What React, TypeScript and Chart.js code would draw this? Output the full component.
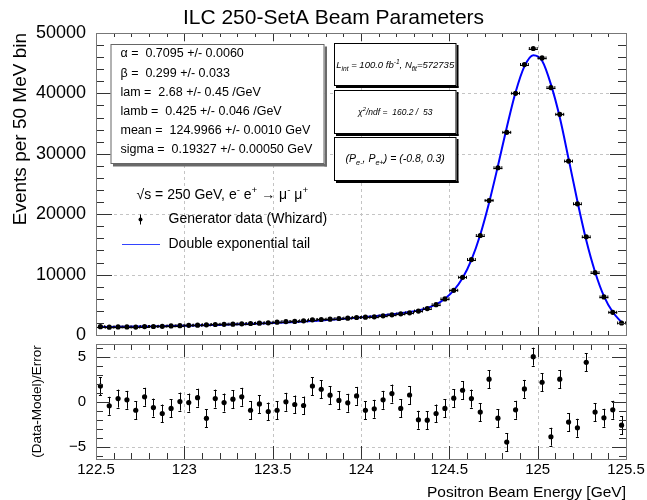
import React, { useEffect, useRef } from 'react';
import { Chart, registerables } from 'chart.js';

Chart.register(...registerables);

const FONT = '"Liberation Sans", Arial, Helvetica, sans-serif';

// ---------- data ----------
const binCenters = [
  122.525, 122.575, 122.625, 122.675, 122.725, 122.775, 122.825, 122.875, 122.925, 122.975,
  123.025, 123.075, 123.125, 123.175, 123.225, 123.275, 123.325, 123.375, 123.425, 123.475,
  123.525, 123.575, 123.625, 123.675, 123.725, 123.775, 123.825, 123.875, 123.925, 123.975,
  124.025, 124.075, 124.125, 124.175, 124.225, 124.275, 124.325, 124.375, 124.425, 124.475,
  124.525, 124.575, 124.625, 124.675, 124.725, 124.775, 124.825, 124.875, 124.925, 124.975,
  125.025, 125.075, 125.125, 125.175, 125.225, 125.275, 125.325, 125.375, 125.425, 125.475,
];

const binHalfWidth = 0.025;

const events = [
  1380, 1290, 1330, 1340, 1320, 1400, 1410, 1440, 1500, 1550,
  1600, 1620, 1680, 1740, 1770, 1800, 1850, 1900, 1960, 2020,
  2120, 2230, 2240, 2350, 2510, 2570, 2620, 2730, 2790, 2900,
  2950, 3010, 3170, 3340, 3500, 3670, 3960, 4380, 5020, 5970,
  7400, 9550, 12490, 16470, 22270, 27690, 33550, 40020, 44780, 47430,
  45870, 40960, 36530, 28790, 21720, 16250, 10330, 6300, 3750, 1990,
];

const fitValues = [
  1320, 1335, 1350, 1370, 1390, 1410, 1435, 1460, 1490, 1520,
  1550, 1585, 1620, 1660, 1700, 1745, 1790, 1840, 1895, 1955,
  2020, 2090, 2165, 2245, 2330, 2420, 2520, 2625, 2735, 2855,
  2980, 3115, 3260, 3420, 3600, 3810, 4080, 4470, 5060, 6000,
  7380, 9420, 12440, 16600, 21900, 27980, 34350, 40190, 44470, 46330,
  45400, 41500, 36040, 29170, 22140, 15680, 10440, 6440, 3800, 2100,
];

const pulls = [
  1.8, -0.4, 0.4, 0.26, -0.9, 0.6, -0.6, -1.26, -0.7, 0.07,
  -0.04, 0.5, -1.8, 0.4, -0.04, 0.33, 0.6, -0.9, -0.2, -1.04,
  -0.9, 0.04, -0.26, -0.37, 1.8, 1.44, 0.78, 0.19, -0.07, 0.7,
  -0.9, -0.74, 0.26, 0.96, -0.7, 0.8, -1.96, -2.0, -1.26, -0.7,
  0.44, 1.33, 0.4, -1.1, 2.56, -1.78, -4.44, -0.85, 1.48, 5.07,
  2.22, -3.85, 2.56, -2.22, -2.85, 4.44, -1.1, -1.74, -0.85, -2.56,
];

const xTickValues = [122.5, 123, 123.5, 124, 124.5, 125, 125.5];
const xTickLabels = ['122.5', '123', '123.5', '124', '124.5', '125', '125.5'];
const xGridValues = [123, 123.5, 124, 124.5, 125];
const yTopTicks = [0, 10000, 20000, 30000, 40000, 50000];
const yTopGrid = [10000, 20000, 30000, 40000];
const yBottomTicks = [-5, 0, 5];
const yBottomTickLabels = ['\u22125', '0', '5'];
const yBottomGrid = [-5, 5];

const fitParamLines = [
  '\u03b1 =  0.7095 +/- 0.0060',
  '\u03b2 =  0.299 +/- 0.033',
  'lam =  2.68 +/- 0.45 /GeV',
  'lamb =  0.425 +/- 0.046 /GeV',
  'mean =  124.9966 +/- 0.0010 GeV',
  'sigma =  0.19327 +/- 0.00050 GeV',
];

const titleText = 'ILC 250-SetA Beam Parameters';
const dataLabel = 'Generator data (Whizard)';
const fitLabel = 'Double exponential tail';

// ---------- helpers ----------
type Seg = { t: string; s?: 'sub' | 'sup' };

function drawRich(ctx: CanvasRenderingContext2D, segs: Seg[], x: number, y: number, size: number, italic: boolean, align: 'left' | 'center') {
  const f = (sz: number) => `${italic ? 'italic ' : ''}${sz}px ${FONT}`;
  let w = 0;
  segs.forEach((sg) => {
    ctx.font = f(sg.s ? size * 0.7 : size);
    w += ctx.measureText(sg.t).width;
  });
  let cx = align === 'center' ? x - w / 2 : x;
  ctx.textAlign = 'left';
  ctx.textBaseline = 'alphabetic';
  ctx.fillStyle = '#000';
  const base = y + size * 0.36;
  segs.forEach((sg) => {
    const sz = sg.s ? size * 0.7 : size;
    ctx.font = f(sz);
    const dy = sg.s === 'sub' ? size * 0.3 : sg.s === 'sup' ? -size * 0.42 : 0;
    ctx.fillText(sg.t, cx, base + dy);
    cx += ctx.measureText(sg.t).width;
  });
}

function drawBox(ctx: CanvasRenderingContext2D, x: number, y: number, w: number, h: number, border: string, shadow: string, sw: number) {
  ctx.fillStyle = shadow;
  ctx.fillRect(x + sw, y + h, w, sw);
  ctx.fillRect(x + w, y + sw, sw, h);
  ctx.fillStyle = '#fff';
  ctx.fillRect(x, y, w, h);
  ctx.strokeStyle = border;
  ctx.lineWidth = 1;
  ctx.strokeRect(x + 0.5, y + 0.5, w - 1, h - 1);
}

type FrameCfg = {
  xMin: number; xStep: number; xCount: number; xMajorEvery: number;
  yMin: number; yStep: number; yCount: number; yMajorEvery: number; yMajorOffset: number;
  xMajorLen: number; xMinorLen: number; yMajorLen: number; yMinorLen: number;
  xGrid: number[]; yGrid: number[];
};

function makeFramePlugin(cfg: FrameCfg) {
  return {
    id: 'rootFrame',
    beforeDatasetsDraw(chart: any) {
      const { ctx, chartArea: a, scales } = chart;
      ctx.save();
      ctx.strokeStyle = '#c4c4c4';
      ctx.lineWidth = 1;
      ctx.setLineDash([3, 3]);
      cfg.xGrid.forEach((v) => {
        const px = Math.round(scales.x.getPixelForValue(v)) + 0.5;
        ctx.beginPath(); ctx.moveTo(px, a.top); ctx.lineTo(px, a.bottom); ctx.stroke();
      });
      cfg.yGrid.forEach((v) => {
        const py = Math.round(scales.y.getPixelForValue(v)) + 0.5;
        ctx.beginPath(); ctx.moveTo(a.left, py); ctx.lineTo(a.right, py); ctx.stroke();
      });
      ctx.restore();
    },
    afterDraw(chart: any) {
      const { ctx, chartArea: a, scales } = chart;
      ctx.save();
      ctx.strokeStyle = '#333';
      ctx.lineWidth = 1;
      ctx.beginPath();
      for (let i = 0; i <= cfg.xCount; i++) {
        const v = cfg.xMin + i * cfg.xStep;
        const px = Math.round(scales.x.getPixelForValue(v)) + 0.5;
        const len = i % cfg.xMajorEvery === 0 ? cfg.xMajorLen : cfg.xMinorLen;
        ctx.moveTo(px, a.bottom); ctx.lineTo(px, a.bottom - len);
        ctx.moveTo(px, a.top); ctx.lineTo(px, a.top + len);
      }
      for (let i = 0; i <= cfg.yCount; i++) {
        const v = cfg.yMin + i * cfg.yStep;
        const py = Math.round(scales.y.getPixelForValue(v)) + 0.5;
        const len = (i - cfg.yMajorOffset) % cfg.yMajorEvery === 0 ? cfg.yMajorLen : cfg.yMinorLen;
        ctx.moveTo(a.left, py); ctx.lineTo(a.left + len, py);
        ctx.moveTo(a.right, py); ctx.lineTo(a.right - len, py);
      }
      ctx.stroke();
      ctx.strokeStyle = '#777';
      ctx.strokeRect(Math.round(a.left) + 0.5, Math.round(a.top) + 0.5, Math.round(a.right - a.left), Math.round(a.bottom - a.top));
      ctx.restore();
    },
  };
}

const errorBarPlugin = {
  id: 'errorBars',
  beforeDatasetDraw(chart: any, args: any) {
    const ds = chart.data.datasets[args.index];
    const eb = ds.errorBars;
    if (!eb) return;
    const { ctx } = chart;
    const xs = chart.scales.x;
    const ys = chart.scales.y;
    ctx.save();
    ctx.strokeStyle = '#000';
    ctx.lineWidth = 1;
    ctx.beginPath();
    ds.data.forEach((p: any, i: number) => {
      const px = xs.getPixelForValue(p.x);
      const py = ys.getPixelForValue(p.y);
      if (eb.xErr) {
        const x0 = xs.getPixelForValue(p.x - eb.xErr[i]);
        const x1 = xs.getPixelForValue(p.x + eb.xErr[i]);
        const yy = Math.round(py) + 0.5;
        ctx.moveTo(x0, yy); ctx.lineTo(x1, yy);
        if (eb.xSerif) {
          ctx.moveTo(x0 + 0.5, py - eb.xSerif); ctx.lineTo(x0 + 0.5, py + eb.xSerif);
          ctx.moveTo(x1 - 0.5, py - eb.xSerif); ctx.lineTo(x1 - 0.5, py + eb.xSerif);
        }
      }
      if (eb.yErr) {
        const y0 = ys.getPixelForValue(p.y - eb.yErr[i]);
        const y1 = ys.getPixelForValue(p.y + eb.yErr[i]);
        const xx = Math.round(px) + 0.5;
        ctx.moveTo(xx, y0); ctx.lineTo(xx, y1);
        if (eb.yCap) {
          ctx.moveTo(px - eb.yCap, Math.round(y0) + 0.5); ctx.lineTo(px + eb.yCap, Math.round(y0) + 0.5);
          ctx.moveTo(px - eb.yCap, Math.round(y1) + 0.5); ctx.lineTo(px + eb.yCap, Math.round(y1) + 0.5);
        }
      }
    });
    ctx.stroke();
    ctx.restore();
  },
};

const annotationPlugin = {
  id: 'annotations',
  afterDraw(chart: any) {
    const ctx: CanvasRenderingContext2D = chart.ctx;
    ctx.save();
    // title
    ctx.fillStyle = '#000';
    ctx.font = `21px ${FONT}`;
    ctx.textAlign = 'center';
    ctx.textBaseline = 'middle';
    ctx.fillText(titleText, 333.5, 18);

    // fit parameter box
    drawBox(ctx, 110.5, 44, 214, 120, '#666', '#6a6a6a', 2.5);
    ctx.fillStyle = '#000';
    ctx.font = `12.5px ${FONT}`;
    ctx.textAlign = 'left';
    ctx.textBaseline = 'middle';
    fitParamLines.forEach((s, i) => ctx.fillText(s, 120.5, 54 + i * 19.2));

    // right info boxes
    drawBox(ctx, 334, 43, 122.5, 43, '#000', '#000', 2);
    drawRich(ctx, [
      { t: 'L' }, { t: 'int', s: 'sub' }, { t: ' = 100.0 fb' }, { t: '-1', s: 'sup' },
      { t: ', N' }, { t: 'fit', s: 'sub' }, { t: '=572735' },
    ], 395.2, 64.5, 9.5, true, 'center');

    drawBox(ctx, 334, 90, 122.5, 44, '#000', '#000', 2);
    drawRich(ctx, [
      { t: '\u03c7' }, { t: '2', s: 'sup' }, { t: '/ndf =  160.2 /  53' },
    ], 395.2, 111.5, 8.5, true, 'center');

    drawBox(ctx, 334, 137, 122.5, 44, '#000', '#000', 2);
    drawRich(ctx, [
      { t: '(P' }, { t: 'e-', s: 'sub' }, { t: ', P' }, { t: 'e+', s: 'sub' }, { t: ') = (-0.8, 0.3)' },
    ], 395.2, 158.5, 10.5, true, 'center');

    // legend
    drawRich(ctx, [
      { t: '\u221as = 250 GeV, e' }, { t: '-', s: 'sup' }, { t: ' e' }, { t: '+', s: 'sup' },
      { t: ' \u2192 \u03bc' }, { t: '-', s: 'sup' }, { t: ' \u03bc' }, { t: '+', s: 'sup' },
    ], 136.5, 193.5, 14, false, 'left');

    ctx.strokeStyle = '#000';
    ctx.lineWidth = 1;
    ctx.beginPath();
    ctx.moveTo(140.5, 214.5); ctx.lineTo(140.5, 224.5);
    ctx.stroke();
    ctx.fillStyle = '#000';
    ctx.beginPath(); ctx.arc(140.5, 219.5, 2, 0, Math.PI * 2); ctx.fill();
    ctx.font = `14px ${FONT}`;
    ctx.textAlign = 'left';
    ctx.textBaseline = 'middle';
    ctx.fillText(dataLabel, 168.5, 219.5);

    ctx.strokeStyle = '#3344ff';
    ctx.lineWidth = 1.2;
    ctx.beginPath(); ctx.moveTo(122, 244.5); ctx.lineTo(160, 244.5); ctx.stroke();
    ctx.fillStyle = '#000';
    ctx.fillText(fitLabel, 168.5, 244.5);
    ctx.restore();
  },
};

const topFrame = makeFramePlugin({
  xMin: 122.5, xStep: 0.1, xCount: 30, xMajorEvery: 5,
  yMin: 0, yStep: 2000, yCount: 25, yMajorEvery: 5, yMajorOffset: 0,
  xMajorLen: 8, xMinorLen: 4, yMajorLen: 16, yMinorLen: 8,
  xGrid: xGridValues, yGrid: yTopGrid,
});

const bottomFrame = makeFramePlugin({
  xMin: 122.5, xStep: 0.1, xCount: 30, xMajorEvery: 5,
  yMin: -6, yStep: 1, yCount: 12, yMajorEvery: 5, yMajorOffset: 1,
  xMajorLen: 13, xMinorLen: 6, yMajorLen: 14, yMinorLen: 7,
  xGrid: xGridValues, yGrid: yBottomGrid,
});

export default function App() {
  const topRef = useRef<HTMLCanvasElement>(null);
  const bottomRef = useRef<HTMLCanvasElement>(null);

  useEffect(() => {
    const topChart = new Chart(topRef.current as HTMLCanvasElement, {
      type: 'scatter',
      data: {
        datasets: [
          {
            type: 'line',
            label: fitLabel,
            data: binCenters.map((x, i) => ({ x, y: fitValues[i] })),
            borderColor: '#0000ff',
            borderWidth: 2,
            pointRadius: 0,
            cubicInterpolationMode: 'monotone',
            fill: false,
            order: 1,
          } as any,
          {
            type: 'scatter',
            label: dataLabel,
            data: binCenters.map((x, i) => ({ x, y: events[i] })),
            pointRadius: 2.6,
            backgroundColor: '#000',
            borderWidth: 0,
            order: 0,
            errorBars: {
              xErr: binCenters.map(() => binHalfWidth),
              yErr: events.map((v) => Math.sqrt(v)),
              xSerif: 1.5,
              yCap: 0,
            },
          } as any,
        ],
      },
      options: {
        responsive: false,
        devicePixelRatio: 1,
        animation: false,
        layout: { padding: { top: 33, right: 21, bottom: 5, left: 0 } },
        plugins: { legend: { display: false }, tooltip: { enabled: false }, title: { display: false } },
        scales: {
          x: { type: 'linear', min: 122.5, max: 125.5, display: false },
          y: {
            type: 'linear',
            min: 0,
            max: 50000,
            afterBuildTicks: (s: any) => { s.ticks = yTopTicks.map((v) => ({ value: v })); },
            afterFit: (s: any) => { s.width = 96; s.paddingTop = 0; s.paddingBottom = 0; },
            grid: { display: false, drawTicks: false },
            border: { display: false },
            ticks: { font: { family: FONT, size: 18 }, color: '#000', padding: 10, callback: (v: any) => String(v) },
            title: {
              display: true,
              text: 'Events per 50 MeV bin',
              align: 'end',
              color: '#000',
              font: { family: FONT, size: 19 },
              padding: { top: 9, bottom: 0 },
            },
          } as any,
        },
      },
      plugins: [topFrame, errorBarPlugin, annotationPlugin],
    });

    const bottomChart = new Chart(bottomRef.current as HTMLCanvasElement, {
      type: 'scatter',
      data: {
        datasets: [
          {
            label: '(Data-Model)/Error',
            data: binCenters.map((x, i) => ({ x, y: pulls[i] })),
            pointRadius: 2.6,
            backgroundColor: '#000',
            borderWidth: 0,
            errorBars: { xErr: null, yErr: pulls.map(() => 1), yCap: 1.5 },
          } as any,
        ],
      },
      options: {
        responsive: false,
        devicePixelRatio: 1,
        animation: false,
        layout: { padding: { top: 4, right: 21, bottom: 0, left: 0 } },
        plugins: { legend: { display: false }, tooltip: { enabled: false } },
        scales: {
          x: {
            type: 'linear',
            min: 122.5,
            max: 125.5,
            afterBuildTicks: (s: any) => { s.ticks = xTickValues.map((v) => ({ value: v })); },
            afterFit: (s: any) => { s.height = 41; s.paddingLeft = 0; s.paddingRight = 0; },
            grid: { display: false, drawTicks: false },
            border: { display: false },
            ticks: {
              font: { family: FONT, size: 15 },
              color: '#000',
              padding: 2,
              maxRotation: 0,
              autoSkip: false,
              callback: (_v: any, i: number) => xTickLabels[i],
            },
            title: {
              display: true,
              text: 'Positron Beam Energy [GeV]',
              align: 'end',
              color: '#000',
              font: { family: FONT, size: 15.5, lineHeight: 0.9 },
              padding: { top: 0, bottom: 0 },
            },
          } as any,
          y: {
            type: 'linear',
            min: -6.33,
            max: 6.48,
            afterBuildTicks: (s: any) => { s.ticks = yBottomTicks.map((v) => ({ value: v })); },
            afterFit: (s: any) => { s.width = 96; s.paddingTop = 0; s.paddingBottom = 0; },
            grid: { display: false, drawTicks: false },
            border: { display: false },
            ticks: {
              font: { family: FONT, size: 15 },
              color: '#000',
              padding: 10,
              callback: (_v: any, i: number) => yBottomTickLabels[i],
            },
            title: {
              display: true,
              text: '(Data-Model)/Error',
              align: 'center',
              color: '#000',
              font: { family: FONT, size: 13.5 },
              padding: { top: 29, bottom: 0 },
            },
          } as any,
        },
      },
      plugins: [bottomFrame, errorBarPlugin],
    });

    return () => {
      topChart.destroy();
      bottomChart.destroy();
    };
  }, []);

  return (
    <div style={{ position: 'absolute', left: 0, top: 0, width: 647, height: 500, background: '#fff' }}>
      <canvas ref={topRef} width={647} height={340} style={{ position: 'absolute', left: 0, top: 0, width: 647, height: 340 }} />
      <canvas ref={bottomRef} width={647} height={160} style={{ position: 'absolute', left: 0, top: 340, width: 647, height: 160 }} />
    </div>
  );
}
